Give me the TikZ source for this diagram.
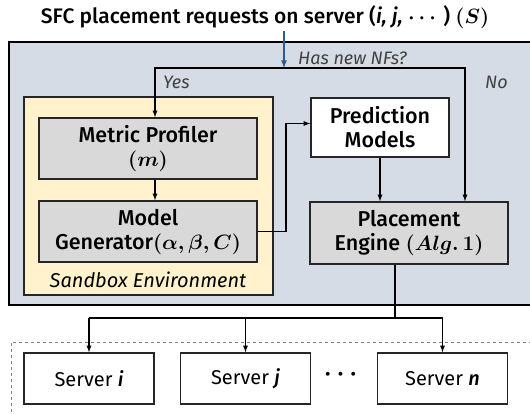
\documentclass[tikz,border=0pt]{standalone}
\usepackage{fontspec}
\setmainfont{Fira Sans}[BoldFont={* Medium},BoldItalicFont={* Medium Italic}]
\usepackage{amsmath}
\usepackage{amssymb}
\usetikzlibrary{arrows,backgrounds,calc,positioning}
\definecolor{outerbg}{HTML}{D6DCE5}
\definecolor{sandbg}{HTML}{FFF2CC}
\definecolor{boxgray}{HTML}{D9D9D9}
\definecolor{reqblue}{HTML}{2E5B87}
\definecolor{notegray}{HTML}{404040}
\newcommand{\boxfont}{\fontsize{21.5}{24}\selectfont\bfseries}
\newcommand{\notefont}{\fontsize{18}{20}\selectfont\itshape}

\begin{document}
\begin{tikzpicture}[x=1pt,y=-1pt,
  blk/.style={draw=black!85,line width=1.5pt,inner sep=0pt,align=center,font=\boxfont},
  srv/.style={blk,fill=white,minimum width=130pt,minimum height=51pt,font=\fontsize{20}{22}\selectfont},
  conn/.style={line width=1.3pt,-latex},
  note/.style={font=\notefont,text=notegray,inner sep=0pt}]
\useasboundingbox (0,0) rectangle (530,413);
\fill[white] (0,0) rectangle (530,413);
\draw[line width=1.5pt,fill=outerbg] (9,42) rectangle (545,305);
\draw[dashed,line width=0.8pt,gray] (11,430) |- (545,342);

\node[font=\fontsize{21}{24}\selectfont\bfseries,inner sep=2pt] (title) at (265,17)
  {SFC placement requests on server (\textit{i, j,} $\boldsymbol{\cdots}$\,) $\boldsymbol{(S)}$};

\node[draw=black!85,line width=1.5pt,fill=sandbg,minimum width=249pt,minimum height=198pt] (sandbox) at (148.5,196) {};
\node[blk,fill=boxgray,minimum width=218pt,minimum height=61pt] (prof) at (148,148.5)
  {Metric Profiler\\$\boldsymbol{(m)}$};
\node[blk,fill=boxgray,minimum width=218pt,minimum height=61pt] (gen) at (148,231.5)
  {Model\\Generator$\boldsymbol{(\alpha,\beta,C)}$};
\node[note,text=black,font=\fontsize{20}{22}\selectfont\itshape] (sandlbl) at (148,280) {Sandbox Environment};

\node[blk,fill=white,minimum width=138pt,minimum height=59pt] (pred) at (380,127.5)
  {Prediction\\Models};
\node[blk,fill=boxgray,minimum width=198pt,minimum height=62pt] (place) at (409,233)
  {Placement\\Engine $\boldsymbol{(Alg.\,1)}$};

\node[srv] (srvi) at (89,378.5) {Server \textbf{\textit{i}}};
\node[srv] (srvj) at (245.5,378.5) {Server \textbf{\textit{j}}};
\node[srv] (srvn) at (442.5,378.5) {Server \textbf{\textit{n}}};
\node[font=\fontsize{26}{26}\selectfont] (dots) at (343,375) {$\boldsymbol{\cdots}$};

\node[note,anchor=west] (hasnew) at (298,58) {Has new NFs?};
\node[note,anchor=west] (yes) at (163,82) {Yes};
\node[note,anchor=west] (no) at (485,82) {No};

\coordinate (split) at (284,68);
\coordinate (yesx) at (155,68);
\coordinate (nox) at (465,68);
\coordinate (bend) at (286,0);
\coordinate (bus) at (395,318);

\draw[conn,reqblue,line width=1.6pt] (title.south -| split) -- (split);
\draw[conn] (split) -- (yesx) -- (yesx |- prof.north);
\draw[conn] (split) -- (nox) -- (nox |- place.north);
\draw[conn] (prof.south -| yesx) -- (gen.north -| yesx);
\draw[conn] (gen.east) -- (gen.east -| bend) |- ([yshift=4pt]pred.west);
\draw[conn] (pred.south) -- (pred.south |- place.north);
\draw[line width=1.3pt] (place.south -| bus) -- (bus);
\draw[line width=1.3pt] (srvi.north |- bus) -- (srvn.north |- bus);
\draw[conn] (srvi.north |- bus) -- (srvi.north);
\draw[conn] (srvj.north |- bus) -- (srvj.north);
\draw[conn] (srvn.north |- bus) -- (srvn.north);
\end{tikzpicture}
\end{document}
